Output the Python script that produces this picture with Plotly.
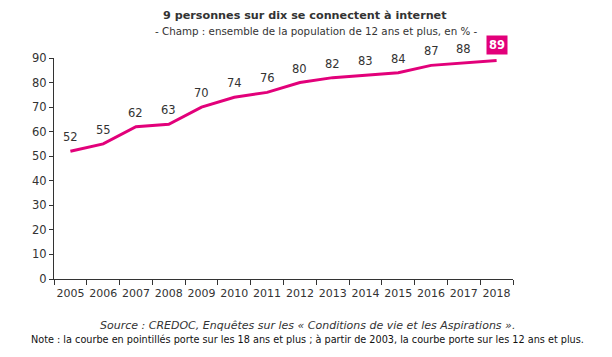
import plotly.graph_objects as go

years = ["2005", "2006", "2007", "2008", "2009", "2010", "2011", "2012", "2013", "2014", "2015", "2016", "2017", "2018"]
values = [52, 55, 62, 63, 70, 74, 76, 80, 82, 83, 84, 87, 88, 89]
y_ticks = [0, 10, 20, 30, 40, 50, 60, 70, 80, 90]

MAG = "#E2007A"
TXT = "#333333"
FONT = "DejaVu Sans"

W, H = 612, 357
L, R, T, B = 54, 99, 58, 78
PW, PH = W - L - R, H - T - B


def px(x):
    return (x - L) / PW


def py(y):
    return (H - B - y) / PH


fig = go.Figure()
fig.add_trace(go.Scatter(
    x=years, y=values, mode="lines",
    line=dict(color=MAG, width=3), hoverinfo="skip",
))

for i, v in enumerate(values):
    if i == len(values) - 1:
        fig.add_annotation(x=i, y=v, text="<b>%d</b>" % v, showarrow=False, yshift=15,
                           bgcolor=MAG, borderpad=2,
                           font=dict(family=FONT, size=11.5, color="white"))
    else:
        fig.add_annotation(x=i, y=v, text=str(v), showarrow=False, yshift=14,
                           font=dict(family=FONT, size=11.5, color=TXT))

texts = [
    (305, 15, "<b>9 personnes sur dix se connectent à internet</b>", 11.2, TXT),
    (316, 31, "- Champ : ensemble de la population de 12 ans et plus, en % -", 10.3, TXT),
    (307, 325, "<i>Source : CREDOC, Enquêtes sur les « Conditions de vie et les Aspirations ».</i>", 11, TXT),
    (307, 339, "Note : la courbe en pointillés porte sur les 18 ans et plus ; à partir de 2003, la courbe porte sur les 12 ans et plus.", 9.7, "#111111"),
]
for x, y, t, s, c in texts:
    fig.add_annotation(x=px(x), y=py(y), xref="paper", yref="paper", xanchor="center", yanchor="middle",
                       text=t, showarrow=False, font=dict(family=FONT, size=s, color=c))

fig.update_layout(
    width=W, height=H,
    margin=dict(l=L, r=R, t=T, b=B, autoexpand=False),
    paper_bgcolor="white", plot_bgcolor="white",
    showlegend=False,
    font=dict(family=FONT, size=11, color=TXT),
)

fig.update_xaxes(type="category", tickson="boundaries", ticks="outside", ticklen=5,
                 ticklabelstandoff=4,
                 tickangle=0, tickcolor="#333333", showline=True, linecolor="#333333", linewidth=1,
                 showgrid=False, range=[-0.5, 13.5], tickfont=dict(family=FONT, size=11, color=TXT))
fig.update_yaxes(range=[0, 90], tickvals=y_ticks, ticks="outside", ticklen=4,
                 tickcolor="#333333", showline=True, linecolor="#333333", linewidth=1,
                 showgrid=False, zeroline=False, tickfont=dict(family=FONT, size=11.5, color=TXT))

fig.write_html("out.html", config={"displayModeBar": False},
               post_script="document.body.style.margin='0';")
